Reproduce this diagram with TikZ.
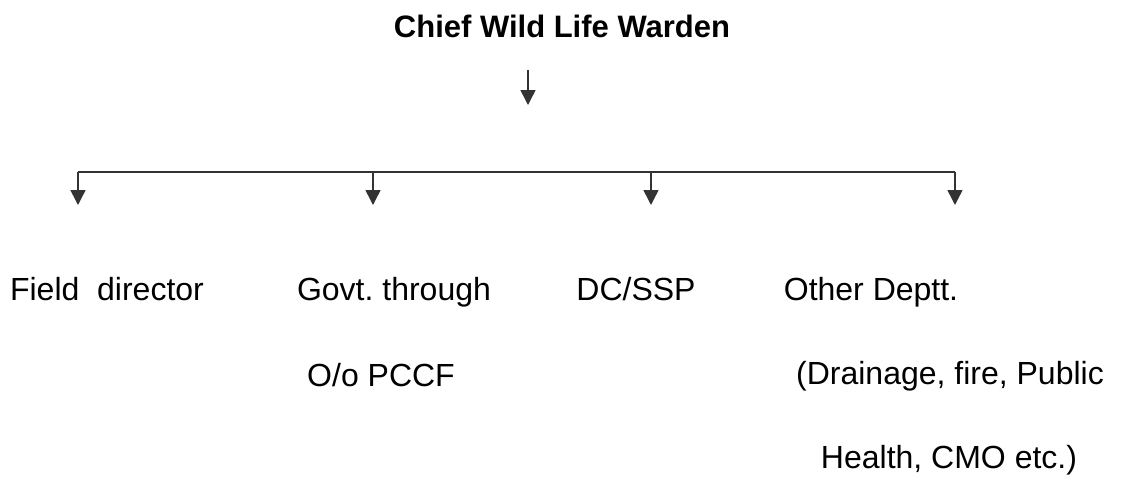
\documentclass[tikz,border=0pt]{standalone}
\usepackage{fontspec}
\setmainfont{Liberation Sans}
\usepackage{tikz}
\usetikzlibrary{arrows.meta, positioning, calc}

\begin{document}
\begin{tikzpicture}[x=0.5pt, y=-0.5pt, >={Triangle[width=7.5pt,length=7.5pt]},
    line width=0.75pt,
    lbl/.style={font=\fontsize{16}{19}\selectfont, anchor=base, inner sep=0pt},
    conn/.style={draw=black!80, line width=0.75pt}]
            % 边界
            \useasboundingbox (0,0) rectangle (1126,504);
            % 标题
            \node[lbl, font=\bfseries\fontsize{15.5}{19}\selectfont] (Warden) at (562,37) {Chief Wild Life Warden};
            % 下属(第一行)
            \node[lbl] (Field) at (107,300) {Field\ \ director};
            \node[lbl] (Govt) at (394,300) {Govt.\ through};
            \node[lbl] (DCSSP) at (636,300) {DC/SSP};
            \node[lbl] (Other) at (871,300) {Other Deptt.};
            % 第二、三行
            \node[lbl] (PCCF) at (381,386) {O/o PCCF};
            \node[lbl] (Drain) at (950,384) {(Drainage, fire, Public};
            \node[lbl] (Health) at (949,468) {Health, CMO etc.)};
            % 连线端点
            \coordinate (A0) at (528,70);
            \coordinate (A1) at (528,105);
            \coordinate (B1) at (78,172);
            \coordinate (B2) at (373,172);
            \coordinate (B3) at (651,172);
            \coordinate (B4) at (955,172);
            \coordinate (T1) at (78,205);
            \coordinate (T2) at (373,205);
            \coordinate (T3) at (651,205);
            \coordinate (T4) at (955,205);
            % 边
            \draw[conn, ->] (A0) -- (A1);
            \draw[conn] (B1) -- (B4);
            \foreach \i in {1,...,4}
                \draw[conn, ->] (B\i) -- (T\i);
        \end{tikzpicture}
\end{document}
